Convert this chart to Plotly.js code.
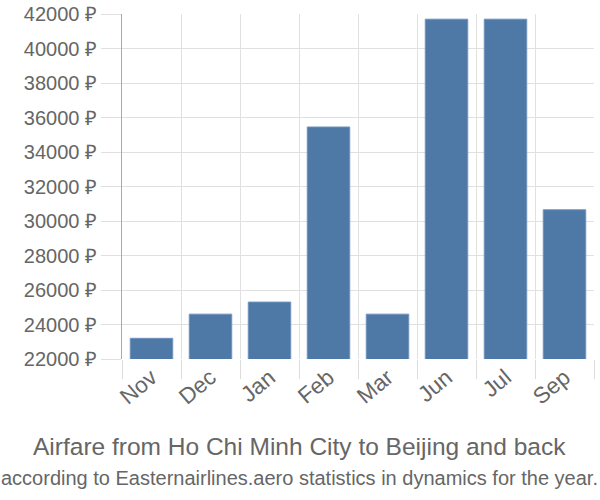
<!DOCTYPE html>
<html>
<head>
<meta charset="utf-8">
<script src="https://cdn.plot.ly/plotly-3.0.1.min.js"></script>
<style>html,body{margin:0;padding:0;background:#fff;}#chart{width:600px;height:500px;}</style>
</head>
<body>
<div id="chart"></div>
<script>
const months = ["Nov", "Dec", "Jan", "Feb", "Mar", "Jun", "Jul", "Sep"];
const prices = [23200, 24600, 25300, 35450, 24600, 41700, 41700, 30650];
const yTicks = [22000, 24000, 26000, 28000, 30000, 32000, 34000, 36000, 38000, 40000, 42000];
const yTickLabels = yTicks.map(v => v + " ₽");
const titleLine = "Airfare from Ho Chi Minh City to Beijing and back";
const subtitleLine = "according to Easternairlines.aero statistics in dynamics for the year.";

const trace = {
  type: "bar",
  x: months,
  y: prices,
  marker: { color: "#4e79a7", line: { color: "#6f93bd", width: 1 } },
  hoverinfo: "none"
};

const FONT = "Liberation Sans, Arial, sans-serif";
const layout = {
  width: 600, height: 500,
  margin: { l: 122, r: 6, t: 14, b: 141 },
  paper_bgcolor: "#fff", plot_bgcolor: "#fff",
  bargap: 0.28,
  showlegend: false,
  font: { family: FONT, color: "#666", size: 20 },
  xaxis: {
    type: "category",
    tickson: "boundaries",
    ticks: "outside", ticklen: 19, tickcolor: "#dcdcdc", tickwidth: 1,
    showgrid: true, gridcolor: "#e0e0e0", gridwidth: 1,
    tickangle: -40,
    tickfont: { size: 22.5, color: "#666", family: FONT },
    showline: false, zeroline: false
  },
  yaxis: {
    range: [22000, 42000],
    tickvals: yTicks, ticktext: yTickLabels,
    ticks: "outside", ticklen: 20, tickcolor: "#e0e0e0", tickwidth: 1,
    showgrid: true, gridcolor: "#e0e0e0", gridwidth: 1,
    showline: true, linecolor: "#aaaaaa", linewidth: 1,
    zeroline: false,
    tickfont: { size: 20, color: "#666", family: FONT }
  },
  annotations: [
    { text: titleLine, xref: "paper", yref: "paper", x: 0.377, xanchor: "center",
      y: -0.255, yanchor: "middle", showarrow: false,
      font: { size: 24.5, color: "#666", family: FONT } },
    { text: subtitleLine, xref: "paper", yref: "paper", x: 0.377, xanchor: "center",
      y: -0.345, yanchor: "middle", showarrow: false,
      font: { size: 20, color: "#666", family: FONT } }
  ]
};

Plotly.newPlot("chart", [trace], layout, { staticPlot: true, displayModeBar: false });
</script>
</body>
</html>
